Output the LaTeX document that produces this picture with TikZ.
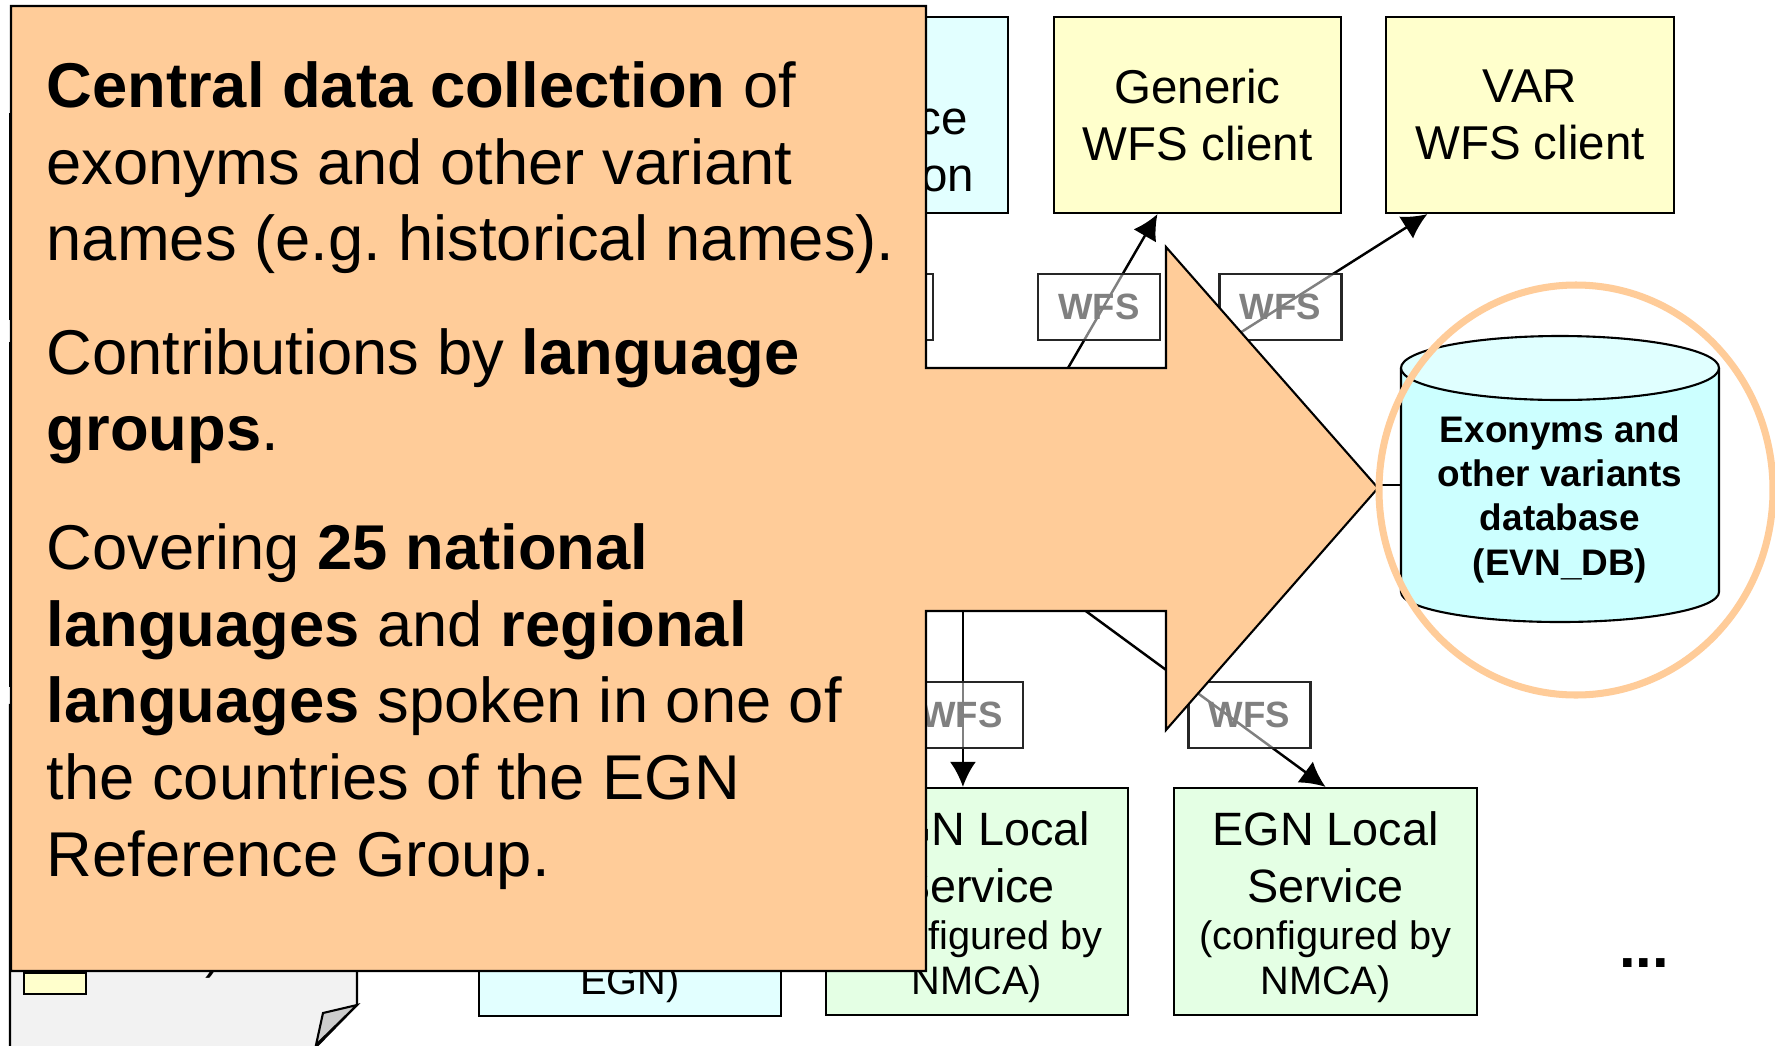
\documentclass[tikz,border=0pt]{standalone}
\usepackage{fontspec}
\setmainfont{Liberation Sans}
\usetikzlibrary{arrows.meta}

\definecolor{peach}{HTML}{FFCC99}
\definecolor{clientyellow}{HTML}{FFFFCC}
\definecolor{servcyan}{HTML}{E2FFFF}
\definecolor{localgreen}{HTML}{E4FFE4}
\definecolor{dbbody}{HTML}{CCFFFF}
\definecolor{dbtop}{HTML}{E0FFFF}
\definecolor{docgray}{HTML}{F2F2F2}

\newcommand{\notefont}{\fontsize{11.3pt}{13pt}\selectfont}
% lines of a box, set a little lower than the centre
\newcommand{\boxlines}[2]{\raisebox{-#1}[\height][\depth]{\begin{tabular}{@{}c@{}}#2\end{tabular}}}

\tikzset{
  box/.style={draw=black, line width=0.6pt, inner sep=0pt, align=center},
  clientbox/.style={box, fill=clientyellow, font=\fontsize{13.5pt}{16.2pt}\selectfont,
    minimum width=2.87cm, minimum height=1.96cm},
  servbox/.style={box, fill=servcyan, font=\fontsize{13.5pt}{16.2pt}\selectfont},
  localbox/.style={box, fill=localgreen, font=\fontsize{13.3pt}{16.4pt}\selectfont,
    minimum width=3.02cm, minimum height=2.27cm},
  wfsbox/.style={draw=black!85, line width=0.6pt, fill=white, fill opacity=0.5,
    text opacity=1, text=black!50, font=\bfseries\fontsize{10.4pt}{12pt}\selectfont,
    minimum width=1.22cm, minimum height=0.66cm, inner sep=0pt},
  conn/.style={line width=0.7pt, -{Latex[length=0.25cm, width=0.26cm]}},
  ring/.style={draw=peach, line width=2pt},
}

\begin{document}
\begin{tikzpicture}[x=0.01cm, y=-0.01cm]
    \useasboundingbox (0,0) rectangle (1775,1045);
    \fill[white] (0,0) rectangle (1775,1045);

    % boxes on the left, hidden behind the callout
    \filldraw[fill=white, line width=0.6pt] (10,114) rectangle (400,319);
    \filldraw[fill=white, line width=0.6pt] (10,343) rectangle (400,686);

    % legend sheet with folded corner
    \filldraw[fill=docgray, line width=0.6pt] (10,705) -- (357,705) -- (357,1005) -- (313,1050) -- (10,1050) -- cycle;
    \filldraw[fill=black!20, line width=0.6pt] (357,1005) -- (323,1013) -- (316,1045) -- cycle;
    \filldraw[fill=clientyellow, line width=0.6pt] (24,973) rectangle (86,994);
    \node[anchor=base, font=\fontsize{13.5pt}{16pt}\selectfont] (legend) at (213,968) {)};

    % services and clients
    \node[servbox, minimum width=3.00cm, minimum height=1.96cm] (refapp) at (858,115)
        {\boxlines{0.08cm}{EGN\\Reference\\Application}};
    \node[clientbox] (generic) at (1197.5,115) {Generic\\WFS client};
    \node[clientbox] (var) at (1530,115) {VAR\\WFS client};
    \node[servbox, minimum width=3.02cm, minimum height=2.28cm] (central) at (630,902)
        {\boxlines{0.07cm}{EGN Central\\Service\\[-3pt]{\notefont (operated by}\\[-3.6pt]{\notefont EGN)}}};
    \node[localbox] (loc1) at (977,901.5)
        {\boxlines{0.07cm}{EGN Local\\Service\\[-3pt]{\notefont (configured by}\\[-3.6pt]{\notefont NMCA)}}};
    \node[localbox] (loc2) at (1325.5,901.5)
        {\boxlines{0.07cm}{EGN Local\\Service\\[-3pt]{\notefont (configured by}\\[-3.6pt]{\notefont NMCA)}}};
    \node[anchor=base, font=\bfseries\fontsize{17pt}{20pt}\selectfont] (more) at (1644,967) {...};

    % database cylinder
    \fill[dbbody] (1401,368) rectangle (1719,592);
    \fill[dbbody] (1560,592) ellipse[x radius=159, y radius=30];
    \draw[line width=0.6pt] (1401,368) -- (1401,592) arc[start angle=180, end angle=0, x radius=159, y radius=30] -- (1719,368);
    \filldraw[fill=dbtop, line width=0.6pt] (1560,368) ellipse[x radius=159, y radius=32];
    \node[align=center, inner sep=0pt, minimum width=3.18cm, font=\bfseries\fontsize{10.5pt}{12.6pt}\selectfont] (evndb) at (1560,499) {Exonyms and\\other variants\\database\\(EVN\_DB)};

    % connectors
    \coordinate (hub) at (1000,485);
    \coordinate (hubw) at (914,485);
    \draw[conn] (hub) -- (generic.248.6);
    \draw[conn] (hub) -- (var.224.4);
    \draw[conn] (loc1.97 |- hub) -- (loc1.97);
    \draw[conn] (hubw) -- (loc2.north);
    \draw[line width=0.7pt] (hub) -- (hub -| evndb.west);

    % WFS interfaces
    \node[wfsbox] (wfs1) at (872,307) {WFS};
    \node[wfsbox] (wfs2) at (1099,307) {WFS};
    \node[wfsbox] (wfs3) at (1280.5,307) {WFS};
    \node[wfsbox] (wfs4) at (962,715) {WFS};
    \node[wfsbox] (wfs5) at (1249.5,715) {WFS};

    % callout with arrow
    \filldraw[fill=peach, line width=0.6pt] (11,6) -- (926,6) -- (926,368) -- (1166,368) -- (1166,247) -- (1378,488)
        -- (1166,730) -- (1166,611) -- (926,611) -- (926,971) -- (11,971) -- cycle;
    \node[anchor=north west, inner sep=0pt, align=left, font=\fontsize{18pt}{21.8pt}\selectfont] (callout) at (46,61) {%
        \textbf{Central data collection} of\\
        exonyms and other variant\\
        names (e.g.\ historical names).\\[10.4pt]
        Contributions by \textbf{language}\\
        \textbf{groups}.\\[12pt]
        Covering \textbf{25 national}\\
        \textbf{languages} and \textbf{regional}\\
        \textbf{languages} spoken in one of\\
        the countries of the EGN\\
        Reference Group.};

    % highlight round the database
    \draw[ring] (1576,490) ellipse[x radius=197, y radius=205];
\end{tikzpicture}
\end{document}
